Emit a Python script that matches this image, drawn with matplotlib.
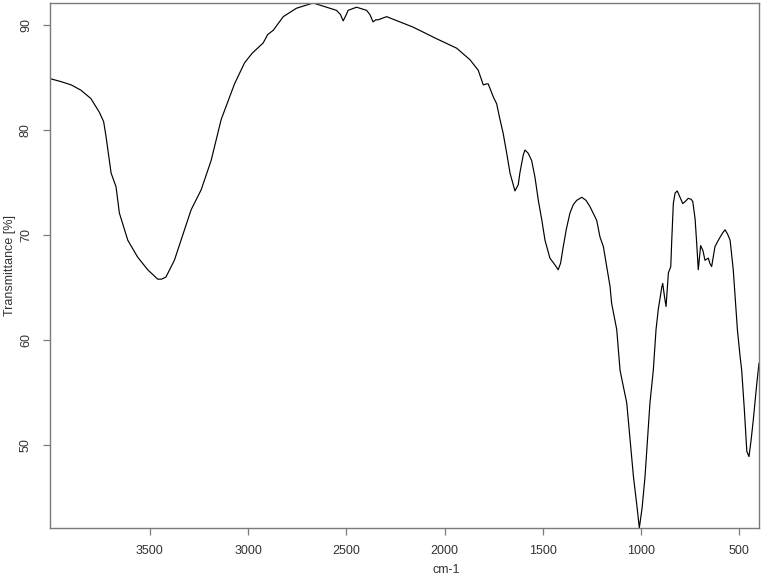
import matplotlib
matplotlib.use("Agg")
import matplotlib.pyplot as plt

plt.rcParams['font.family'] = ['Liberation Sans', 'DejaVu Sans']

# wavenumber (cm-1) and transmittance (%)
wavenumber = [4008, 3950, 3900, 3851, 3800, 3757, 3735, 3723, 3697, 3672,
              3655, 3612, 3562, 3511, 3460, 3440, 3418, 3375, 3324, 3290,
              3239, 3188, 3137, 3069, 3018, 2980, 2923, 2900, 2872, 2821,
              2754, 2669, 2601, 2550, 2530, 2516, 2500, 2491, 2448, 2397,
              2380, 2364, 2350, 2338, 2295, 2160, 2041, 1939, 1871, 1829,
              1803, 1786, 1778, 1753, 1735, 1718, 1702, 1684, 1667, 1642,
              1625, 1617, 1600, 1591, 1575, 1557, 1540, 1523, 1505, 1489,
              1464, 1440, 1422, 1410, 1396, 1380, 1362, 1345, 1328, 1302,
              1280, 1260, 1226, 1209, 1192, 1158, 1150, 1124, 1107, 1073,
              1039, 1020, 1009, 995, 980, 955, 938, 924, 912, 895,
              890, 880, 873, 868, 861, 849, 844, 836, 827, 816,
              800, 788, 775, 760, 745, 737, 725, 717, 709, 697,
              685, 675, 658, 650, 641, 624, 610, 598, 585, 573,
              560, 547, 531, 510, 496, 488, 475, 462, 451, 440,
              429, 411, 400]
transmittance = [84.9, 84.6, 84.3, 83.8, 83.0, 81.7, 80.8, 79.4, 75.9, 74.6,
                 72.1, 69.5, 67.9, 66.7, 65.8, 65.8, 66.0, 67.6, 70.5, 72.4,
                 74.3, 77.1, 81.0, 84.4, 86.4, 87.3, 88.3, 89.1, 89.5, 90.8,
                 91.6, 92.1, 91.7, 91.4, 91.0, 90.4, 91.0, 91.4, 91.7, 91.4,
                 91.0, 90.3, 90.5, 90.5, 90.8, 89.8, 88.7, 87.8, 86.7, 85.7,
                 84.3, 84.4, 84.4, 83.2, 82.5, 81.0, 79.7, 77.8, 75.9, 74.2,
                 74.8, 75.9, 77.6, 78.1, 77.8, 77.1, 75.5, 73.3, 71.4, 69.5,
                 67.8, 67.2, 66.7, 67.3, 68.9, 70.6, 72.1, 72.9, 73.3, 73.6,
                 73.3, 72.7, 71.4, 69.8, 68.9, 65.1, 63.5, 61.0, 57.1, 54.0,
                 47.0, 44.0, 42.1, 44.0, 47.0, 54.0, 57.1, 61.0, 63.0, 65.0,
                 65.4, 64.0, 63.2, 64.5, 66.4, 67.0, 69.5, 73.0, 74.0, 74.2,
                 73.5, 73.0, 73.2, 73.5, 73.4, 73.2, 71.5, 69.2, 66.7, 69.0,
                 68.5, 67.6, 67.8, 67.3, 67.0, 68.9, 69.4, 69.8, 70.2, 70.5,
                 70.1, 69.5, 66.7, 61.0, 58.4, 57.1, 53.5, 49.4, 48.9, 50.5,
                 52.4, 55.9, 57.8]

x_ticks = [3500, 3000, 2500, 2000, 1500, 1000, 500]
y_ticks = [50, 60, 70, 80, 90]

axis_grey = '#7a7a7a'
text_grey = '#333333'

fig = plt.figure(figsize=(7.62, 5.77), dpi=100)
ax = fig.add_axes([50 / 762, 1 - 528 / 577, 709 / 762, 525 / 577])

ax.plot(wavenumber, transmittance, color='black', linewidth=0.85)

ax.set_xlim(max(wavenumber), min(wavenumber))
ax.set_ylim(min(transmittance), max(transmittance))

ax.set_xticks(x_ticks)
ax.set_yticks(y_ticks)
ax.tick_params(direction='out', length=5, width=0.9, color=axis_grey,
               labelcolor=text_grey, labelsize=9)
ax.tick_params(axis='x', pad=7)
ax.tick_params(axis='y', pad=8)
for lab in ax.get_yticklabels():
    lab.set_rotation(90)
    lab.set_va('center')

for side in ['left', 'bottom', 'right', 'top']:
    ax.spines[side].set_color(axis_grey)
    ax.spines[side].set_linewidth(1.0)

fig.text(446 / 762, 1 - 570 / 577, 'cm-1', ha='center', va='center',
         fontsize=9, color=text_grey)
fig.text(10 / 762, 1 - 265 / 577, 'Transmittance [%]', ha='center',
         va='center', rotation=90, fontsize=9, color=text_grey)

fig.savefig('out.png', dpi=100)
